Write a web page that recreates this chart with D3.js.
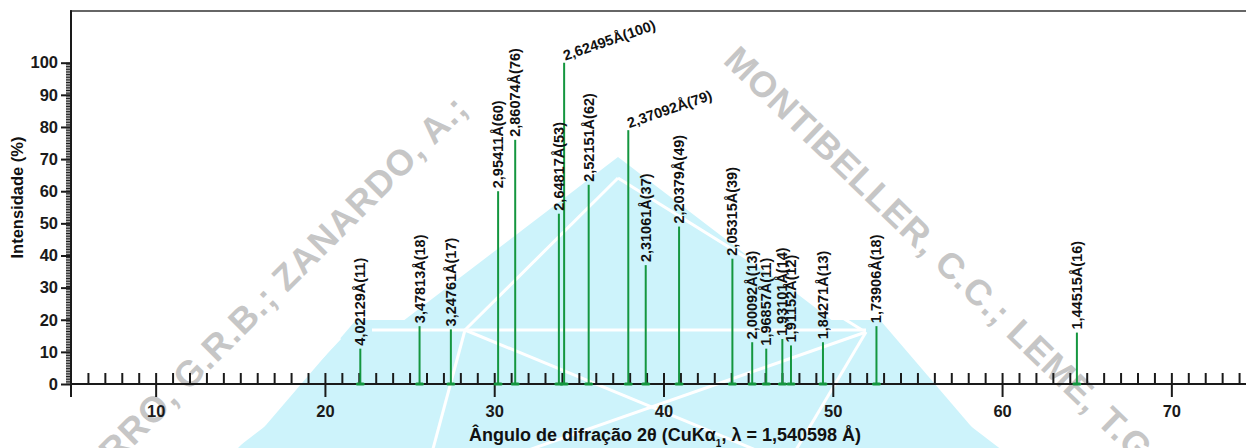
<!DOCTYPE html>
<html>
<head>
<meta charset="utf-8">
<script src="https://cdn.jsdelivr.net/npm/d3@7/dist/d3.min.js"></script>
<style>
    body { margin: 0; background: #ffffff; }
    svg { display: block; font-family: "Liberation Sans", Arial, sans-serif; }
    .Axis text { font-weight: bold; font-size: 16.5px; fill: #1a1a1a; }
    .PeakLabel { font-weight: bold; font-size: 14.5px; fill: #111111; }
    .WatermarkText { font-weight: bold; font-size: 36px; letter-spacing: 1px; fill: #c6c6c6; }
</style>
</head>
<body>
<svg id="chart" width="1246" height="448"></svg>
<script>

// d-spacing (Å), 2θ position (degrees) and relative intensity (%) of each peak
const d_spacings = ["4,02129", "3,47813", "3,24761", "2,95411", "2,86074", "2,64817", "2,62495",
    "2,52151", "2,37092", "2,31061", "2,20379", "2,05315", "2,00092", "1,96857", "1,93101",
    "1,91152", "1,84271", "1,73906", "1,44515"];
const two_theta = [22.09, 25.59, 27.44, 30.23, 31.24, 33.82, 34.13, 35.58, 37.92, 38.95,
    40.92, 44.07, 45.24, 46.07, 47.02, 47.53, 49.42, 52.58, 64.42];
const intensities = [11, 18, 17, 60, 76, 53, 100, 62, 79, 37, 49, 39, 13, 11, 14, 12, 13, 18, 16];

// peaks whose labels are drawn slanted instead of vertical
const slanted_peaks = ["2,62495", "2,37092"];

const x_ticks = [10, 20, 30, 40, 50, 60, 70];
const y_ticks = [0, 10, 20, 30, 40, 50, 60, 70, 80, 90, 100];

const svg = d3.select("#chart");

const x_scale = d3.scaleLinear().domain([5, 75]).range([71, 1256]);
const y_scale = d3.scaleLinear().domain([0, 100]).range([384, 62.7]);

const axis_color = "#1a1a1a";
const peak_color = "#14963f";

// background watermark (logo + author names)
const watermark = svg.append("g").attr("class", "Watermark");
watermark.append("path")
    .attr("d", "M618,157 L221,460 L1015,460 Z")
    .attr("fill", "#cdf3fb");
watermark.append("path")
    .attr("d", "M356,320 L880,320 L1000,460 L236,460 Z")
    .attr("fill", "#cdf3fb");
const white_lines = [
    "M372,330 L866,330",
    "M618,178 L465,330",
    "M618,178 L862,330",
    "M236,448 L340,338",
    "M430,460 L465,330",
    "M465,330 L780,460",
    "M500,460 L866,332",
    "M790,460 L866,332"
];
watermark.selectAll(".WhiteLine")
    .data(white_lines)
    .join("path")
    .attr("class", "WhiteLine")
    .attr("d", d => d)
    .attr("fill", "none")
    .attr("stroke", "#ffffff")
    .attr("stroke-width", 3);

watermark.append("text")
    .attr("class", "WatermarkText")
    .attr("transform", "translate(470,110) rotate(-45)")
    .attr("text-anchor", "end")
    .text("NAVARRO, G.R.B.; ZANARDO, A.;");
watermark.append("text")
    .attr("class", "WatermarkText")
    .attr("transform", "translate(722,62) rotate(44)")
    .text("MONTIBELLER, C.C.; LEME, T.G.");

// frame top line
svg.append("line")
    .attr("x1", 70).attr("x2", 1246)
    .attr("y1", 11).attr("y2", 11)
    .attr("stroke", "#333333").attr("stroke-width", 1.5);

// x axis: minor ticks upward, major ticks downward with labels
const x_minor = svg.append("g")
    .attr("class", "Axis")
    .attr("transform", `translate(0,${y_scale(0)})`)
    .call(d3.axisBottom(x_scale).tickValues(d3.range(6, 76)).tickSize(-11).tickFormat(""));
const x_major = svg.append("g")
    .attr("class", "Axis")
    .attr("transform", `translate(0,${y_scale(0)})`)
    .call(d3.axisBottom(x_scale).tickValues(x_ticks).tickSize(13).tickPadding(5).tickFormat(d3.format("d")));
x_major.selectAll("text").attr("dy", "0.92em");

// y axis: dense minor ticks, major ticks with labels
const y_minor = svg.append("g")
    .attr("class", "Axis")
    .attr("transform", `translate(${x_scale(5)},0)`)
    .call(d3.axisLeft(y_scale).tickValues(d3.range(0, 100.5, 0.5)).tickSize(5).tickFormat(""));
const y_major = svg.append("g")
    .attr("class", "Axis")
    .attr("transform", `translate(${x_scale(5)},0)`)
    .call(d3.axisLeft(y_scale).tickValues(y_ticks).tickSize(10).tickPadding(3));

svg.selectAll(".Axis .domain").remove();
x_minor.selectAll("line").attr("stroke", axis_color).attr("stroke-width", 2);
x_major.selectAll("line").attr("stroke", axis_color).attr("stroke-width", 2);
y_minor.selectAll("line").attr("stroke", axis_color).attr("stroke-width", 1);
y_major.selectAll("line").attr("stroke", axis_color).attr("stroke-width", 2);

// axis lines
svg.append("line")
    .attr("x1", x_scale(5)).attr("x2", 1246)
    .attr("y1", y_scale(0)).attr("y2", y_scale(0))
    .attr("stroke", axis_color).attr("stroke-width", 2);
svg.append("line")
    .attr("x1", x_scale(5)).attr("x2", x_scale(5))
    .attr("y1", 10.3).attr("y2", y_scale(0) + 13)
    .attr("stroke", axis_color).attr("stroke-width", 2);

// axis titles
const x_title = svg.append("text")
    .attr("x", 665).attr("y", 441)
    .attr("text-anchor", "middle")
    .style("font-weight", "bold").style("font-size", "18px").style("fill", "#111111");
x_title.append("tspan").text("Ângulo de difração 2θ (CuKα");
x_title.append("tspan").attr("baseline-shift", "sub").style("font-size", "10px").text("1");
x_title.append("tspan").text(", λ = 1,540598 Å)");

svg.append("text")
    .attr("transform", `translate(23,${(y_scale(0) + 11) / 2}) rotate(-90)`)
    .attr("text-anchor", "middle")
    .style("font-weight", "bold").style("font-size", "16.5px").style("fill", "#111111")
    .text("Intensidade (%)");

// peaks
const peaks = d_spacings.map((d, i) => ({d: d, theta: two_theta[i], value: intensities[i]}));
const peak_group = svg.append("g").attr("class", "Peaks");

peak_group.selectAll(".PeakBase")
    .data(peaks)
    .join("rect")
    .attr("class", "PeakBase")
    .attr("x", p => x_scale(p.theta) - 4.5)
    .attr("y", y_scale(0) - 1.5)
    .attr("width", 9)
    .attr("height", 3)
    .attr("rx", 1.5)
    .attr("fill", peak_color);

peak_group.selectAll(".PeakLine")
    .data(peaks)
    .join("line")
    .attr("class", "PeakLine")
    .attr("x1", p => x_scale(p.theta)).attr("x2", p => x_scale(p.theta))
    .attr("y1", y_scale(0)).attr("y2", p => y_scale(p.value))
    .attr("stroke", peak_color).attr("stroke-width", 2);

peak_group.selectAll(".PeakLabel")
    .data(peaks)
    .join("text")
    .attr("class", "PeakLabel")
    .attr("transform", p => slanted_peaks.includes(p.d)
        ? `translate(${x_scale(p.theta) + 1},${y_scale(p.value) - 2}) rotate(-19)`
        : `translate(${x_scale(p.theta) + 5},${y_scale(p.value) - 3}) rotate(-90)`)
    .text(p => `${p.d}Å(${p.value})`);

</script>
</body>
</html>
